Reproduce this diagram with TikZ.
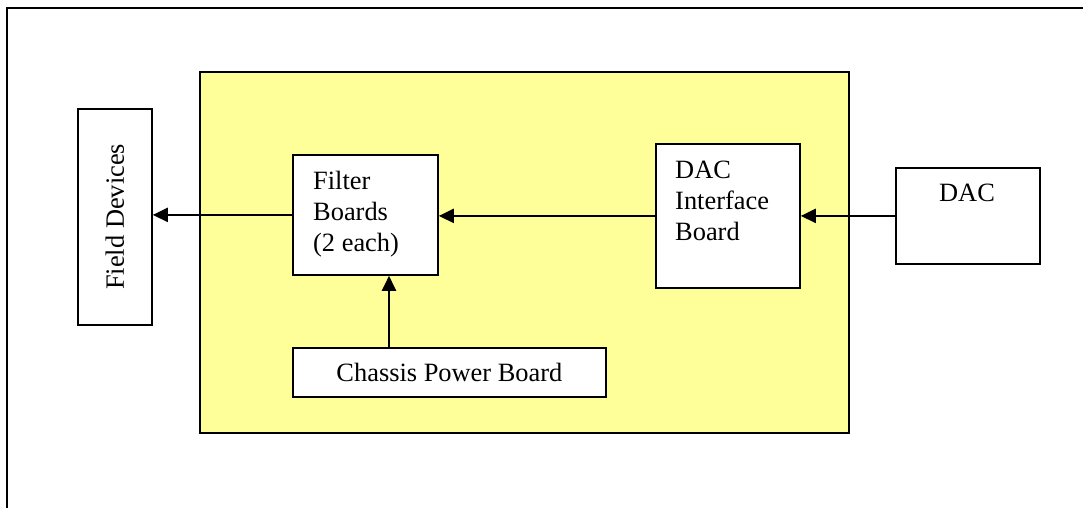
\documentclass[tikz,border=0pt]{standalone}
\usepackage{fontspec}
\setmainfont{Liberation Serif}
\usetikzlibrary{arrows.meta}
\definecolor{boardyellow}{RGB}{255,255,153}
\tikzset{
  board/.style={draw, line width=1.8pt, fill=white, inner sep=0pt, anchor=north west},
  txt/.style={inner sep=0pt, align=left, font=\fontsize{26.4}{31}\selectfont},
  arr/.style={line width=2.2pt, -{Triangle[length=15pt,width=14pt]}},
}
\begin{document}
\begin{tikzpicture}[x=1pt,y=-1pt]
\useasboundingbox (0,0) rectangle (1083,508);
% outer frame (clipped by page)
\begin{scope}
  \clip (0,0) rectangle (1083,508);
  \draw[line width=2.2pt] (7,8) rectangle (1100,530);
\end{scope}
% chassis
\node[draw, line width=2pt, fill=boardyellow, inner sep=0pt, anchor=north west,
      minimum width=649pt, minimum height=361pt] (ch) at (199,71) {};
% field devices
\node[board, minimum width=74pt, minimum height=216pt] (fd) at (77,108) {};
\node[txt, rotate=90] (fdt) at (fd.center) {Field Devices};
% filter boards
\node[board, minimum width=145pt, minimum height=120pt] (fb) at (292,154) {};
\node[txt, anchor=north west] (fbt) at (313,171) {Filter\\Boards\\(2 each)};
% DAC interface board
\node[board, minimum width=144pt, minimum height=144pt] (dib) at (655,143) {};
\node[txt, anchor=north west] (dibt) at (675,161) {DAC\\Interface\\Board};
% DAC
\node[board, minimum width=144pt, minimum height=96pt] (dac) at (895,167) {};
\node[txt, anchor=north] (dact) at (967,184) {DAC};
% chassis power board
\node[board, minimum width=313pt, minimum height=49pt] (cpb) at (292,347) {};
\node[txt] (cpbt) at (cpb.center) {Chassis Power Board};
% connectors
\coordinate (vx) at (389,0);
\draw[arr] (fb.west) -- (fb.west -| fd.east);
\draw[arr] (dib.west) -- (dib.west -| fb.east);
\draw[arr] (dac.west) -- (dac.west -| dib.east);
\draw[arr] (cpb.north -| vx) -- (fb.south -| vx);
\end{tikzpicture}
\end{document}
